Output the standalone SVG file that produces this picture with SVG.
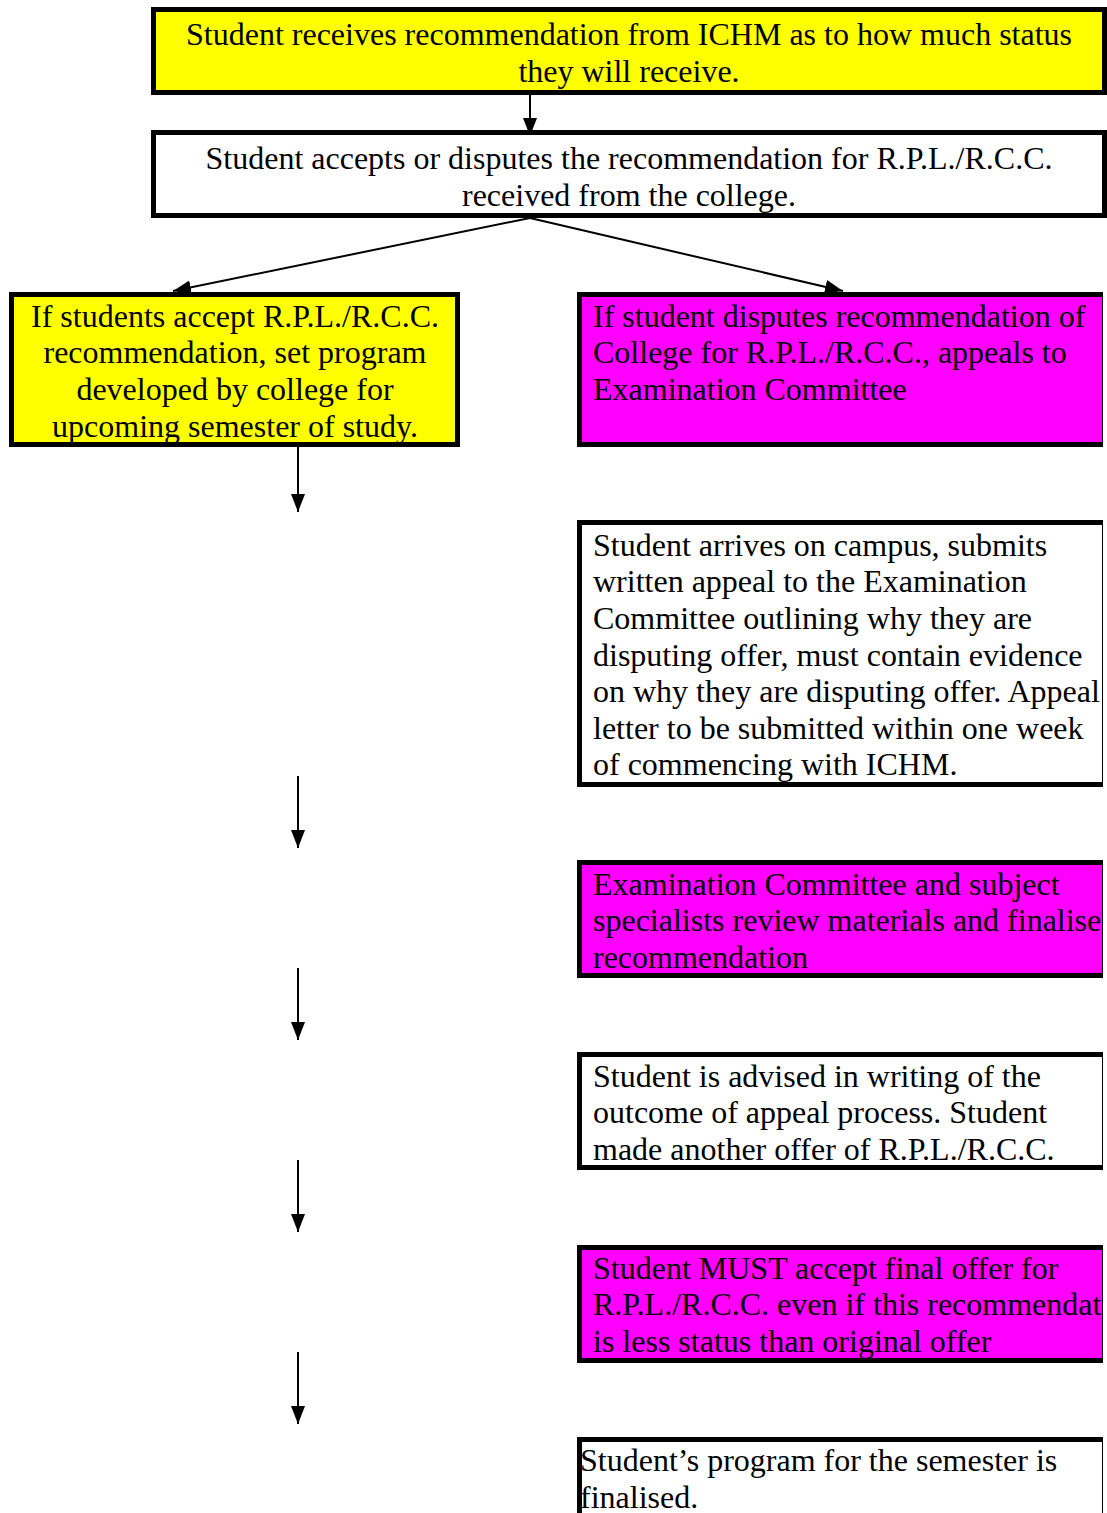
<svg xmlns="http://www.w3.org/2000/svg" width="1107" height="1513" viewBox="0 0 1107 1513">
<style>
.box{stroke:#000;stroke-width:5}
.y{fill:#FFFF00}
.m{fill:#FF00FF}
.w{fill:#FFFFFF}
text{font-family:"Liberation Serif","Times New Roman",serif;font-size:32px;fill:#000}
.c{text-anchor:middle}
.conn{stroke:#000;stroke-width:2;fill:none;marker-end:url(#ah)}
</style>
<defs>
<marker id="ah" markerUnits="userSpaceOnUse" markerWidth="18" markerHeight="14" viewBox="0 0 18 14" refX="18" refY="7" orient="auto">
<path d="M0,0 L18,7 L0,14 z" fill="#000"/>
</marker>
<clipPath id="rc"><rect x="0" y="0" width="1103" height="1513"/></clipPath>
</defs>
<rect width="1107" height="1513" fill="#fff"/>
<g id="connectors">
<line class="conn" x1="530" y1="95" x2="530" y2="136"/>
<line class="conn" x1="530" y1="218" x2="173" y2="291"/>
<line class="conn" x1="530" y1="218" x2="843" y2="291"/>
<line class="conn" x1="298" y1="446" x2="298" y2="512"/>
<line class="conn" x1="298" y1="776" x2="298" y2="848"/>
<line class="conn" x1="298" y1="968" x2="298" y2="1040"/>
<line class="conn" x1="298" y1="1160" x2="298" y2="1232"/>
<line class="conn" x1="298" y1="1352" x2="298" y2="1424"/>
</g>
<g id="n1">
<rect class="box y" x="153.5" y="9.5" width="951" height="83"/>
<text class="c" x="629" y="45">Student receives recommendation from ICHM as to how much status</text>
<text class="c" x="629" y="82">they will receive.</text>
</g>
<g id="n2">
<rect class="box w" x="153.5" y="132.5" width="951" height="83"/>
<text class="c" x="629" y="169">Student accepts or disputes the recommendation for R.P.L./R.C.C.</text>
<text class="c" x="629" y="206">received from the college.</text>
</g>
<g id="n3">
<rect class="box y" x="11.5" y="294.5" width="446" height="150"/>
<text class="c" x="235" y="327">If students accept R.P.L./R.C.C.</text>
<text class="c" x="235" y="363">recommendation, set program</text>
<text class="c" x="235" y="400">developed by college for</text>
<text class="c" x="235" y="437">upcoming semester of study.</text>
</g>
<g id="n4" clip-path="url(#rc)">
<rect class="box m" x="579.5" y="294.5" width="525" height="150"/>
<text x="593" y="327">If student disputes recommendation of</text>
<text x="593" y="363">College for R.P.L./R.C.C., appeals to</text>
<text x="593" y="400">Examination Committee</text>
</g>
<g id="n5" clip-path="url(#rc)">
<rect class="box w" x="579.5" y="522.5" width="525" height="262"/>
<text x="593" y="556">Student arrives on campus, submits</text>
<text x="593" y="592">written appeal to the Examination</text>
<text x="593" y="629">Committee outlining why they are</text>
<text x="593" y="666">disputing offer, must contain evidence</text>
<text x="593" y="702">on why they are disputing offer. Appeal</text>
<text x="593" y="739">letter to be submitted within one week</text>
<text x="593" y="775">of commencing with ICHM.</text>
</g>
<g id="n6" clip-path="url(#rc)">
<rect class="box m" x="579.5" y="862.5" width="525" height="113"/>
<text x="593" y="895">Examination Committee and subject</text>
<text x="593" y="931">specialists review materials and finalise</text>
<text x="593" y="968">recommendation</text>
</g>
<g id="n7" clip-path="url(#rc)">
<rect class="box w" x="579.5" y="1054.5" width="525" height="113"/>
<text x="593" y="1087">Student is advised in writing of the</text>
<text x="593" y="1123">outcome of appeal process. Student</text>
<text x="593" y="1160">made another offer of R.P.L./R.C.C.</text>
</g>
<g id="n8" clip-path="url(#rc)">
<rect class="box m" x="579.5" y="1247.5" width="525" height="113"/>
<text x="593" y="1279">Student MUST accept final offer for</text>
<text x="593" y="1315">R.P.L./R.C.C. even if this recommendation</text>
<text x="593" y="1352">is less status than original offer</text>
</g>
<g id="n9" clip-path="url(#rc)">
<rect class="box w" x="579.5" y="1439.5" width="525" height="100"/>
<text x="580" y="1471">Student’s program for the semester is</text>
<text x="580" y="1508">finalised.</text>
</g>
</svg>
